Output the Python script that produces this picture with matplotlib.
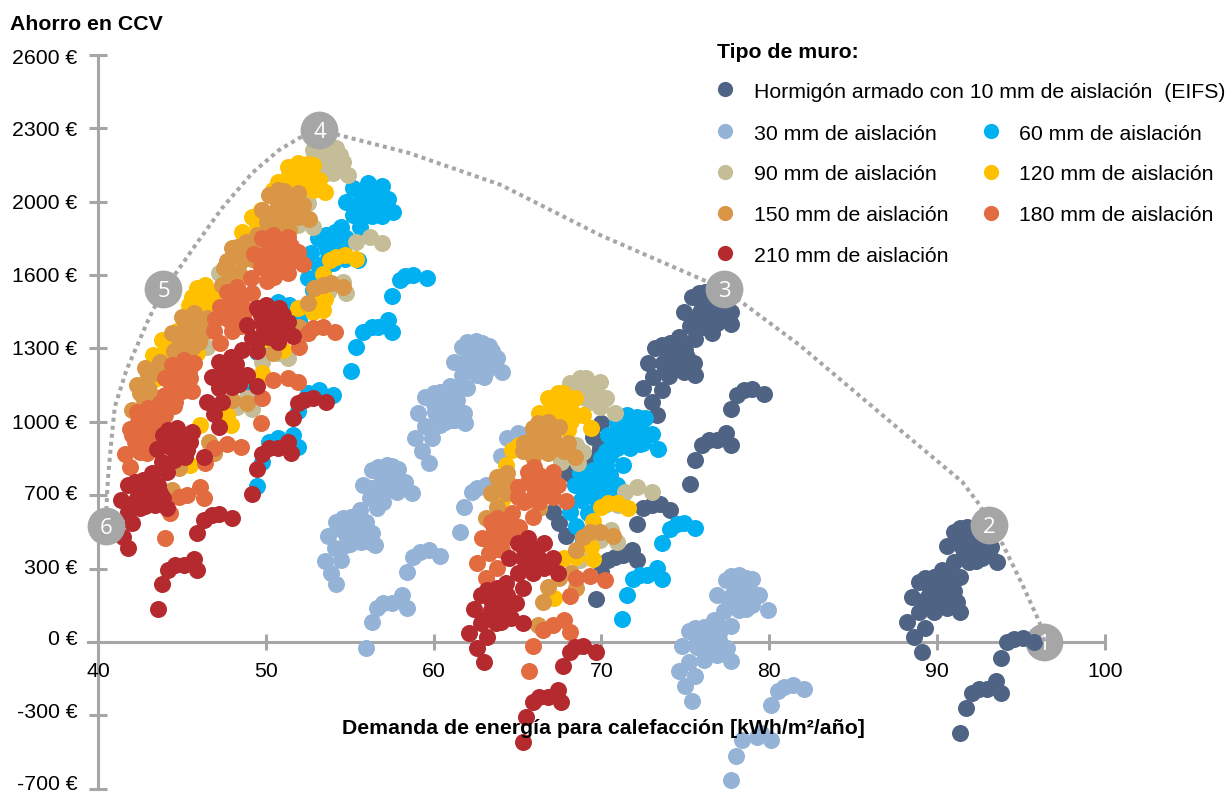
import matplotlib
matplotlib.use("Agg")
import matplotlib.pyplot as plt
from matplotlib.transforms import ScaledTranslation

plt.rcParams['font.family'] = ['Liberation Sans', 'DejaVu Sans']

# ---------- data (kWh/m2/año, € CCV) ----------
eifs = [(91.0,495),(91.4,513),(91.8,517),(92.4,517),(92.7,513),(90.6,432),(91.5,427),(92.0,445),(92.6,450),(93.2,427),
 (91.0,360),(91.9,360),(92.7,378),(93.6,360),(90.3,324),(91.4,292),(88.9,270),(89.3,288),(89.8,292),(90.7,265),
 (88.5,202),(89.4,198),(89.9,220),(90.7,225),(91.2,180),(88.9,135),(89.8,135),(90.6,153),(91.4,135),
 (88.2,90),(89.3,63),(88.6,22),(89.1,-45),
 (94.2,0),(94.6,13),(95.1,18),(95.8,0),(93.8,-72),(93.5,-175),(92.5,-211),(92.1,-229),(93.0,-211),(93.8,-229),(91.7,-297),(91.4,-409),
 (75.4,1551),(75.8,1569),(76.2,1574),(76.8,1574),(77.2,1574),(74.9,1484),(75.9,1484),(76.4,1502),(76.9,1506),(77.7,1484),
 (75.3,1421),(76.1,1416),(76.9,1434),(77.7,1430),(74.6,1371),(75.6,1362),(73.2,1322),(73.6,1335),(74.1,1344),(75.0,1313),
 (72.8,1254),(73.7,1254),(74.2,1277),(75.1,1281),(75.5,1254),(73.1,1191),(74.0,1196),(74.9,1214),(75.6,1200),
 (72.5,1142),(73.6,1133),(73.0,1079),(73.3,1021),
 (78.1,1111),(78.5,1133),(79.0,1137),(79.7,1115),(77.7,1048),(77.4,940),(76.4,908),(76.0,886),(76.9,908),(77.7,886),(75.6,818),(75.3,710),
 (70.0,985),(69.5,922),(69.9,872),(69.3,827),(68.0,760),(68.4,728),(67.1,584),(67.5,535),(67.9,477),
 (72.5,602),(73.0,616),(73.5,620),(74.1,593),(72.1,531),(71.8,414),(70.8,382),(70.4,369),(71.3,391),(72.1,369),(70.0,315),(69.7,193),
 (91.3,465),(92.0,480),(92.8,480),(91.6,395),(92.4,405),(93.1,400),(92.3,365),
 (90.0,255),(90.7,295),(89.6,240),(90.3,240),(91.0,230),(89.2,165),(90.1,165),(90.9,185),(90.2,190),
 (76.0,1520),(76.6,1530),(77.2,1520),(75.6,1445),(76.4,1455),(77.2,1460),(76.6,1390),
 (74.6,1300),(74.3,1320),(73.9,1290),(74.5,1260),(73.8,1220),(74.7,1240),(75.1,1230),(74.9,1340)]

mm30 = [(61.7,1326),(62.0,1349),(62.5,1353),(62.9,1344),(63.3,1331),(61.2,1259),(62.0,1268),(62.6,1277),(63.2,1277),(63.8,1277),
 (61.7,1200),(62.6,1200),(63.2,1223),(64.1,1214),(61.0,1151),(62.0,1142),(59.5,1102),(60.0,1120),(60.4,1124),(61.4,1088),
 (59.1,1030),(60.1,1034),(60.6,1057),(61.4,1052),(61.8,1030),(59.5,971),(60.4,976),(61.1,998),(61.9,985),
 (58.9,917),(59.9,917),(59.3,859),(59.7,805),
 (56.3,773),(56.7,787),(57.2,796),(57.5,791),(57.9,778),(55.8,706),(56.8,710),(57.2,728),(57.9,728),(58.3,719),
 (56.2,647),(57.0,661),(57.8,674),(58.7,670),(55.6,593),(56.6,602),(54.2,540),(54.6,557),(55.1,562),(56.0,540),
 (53.7,477),(54.8,481),(55.3,504),(56.3,490),(54.1,423),(54.8,436),(55.7,450),(56.5,436),
 (53.5,364),(54.5,369),(53.9,310),(54.2,261),
 (58.8,382),(59.2,405),(59.7,414),(60.4,387),(58.4,315),(58.1,211),(57.0,175),(56.6,153),(57.5,175),(58.4,153),(56.3,90),(56.0,-27),
 (62.3,674),(62.6,692),(63.1,706),(61.8,607),(61.6,495),(64.4,917),(65.0,940),(64.0,836),(65.5,931),
 (77.4,279),(77.7,297),(78.2,301),(78.6,288),(79.0,283),(76.9,211),(77.8,211),(78.3,234),(78.9,225),(79.4,211),
 (77.3,139),(78.2,144),(79.0,166),(79.9,144),(76.7,99),(77.7,72),(75.2,49),(75.6,63),(76.1,67),(77.0,40),
 (74.8,-18),(75.7,-22),(76.2,0),(77.0,9),(77.5,-27),(75.2,-90),(76.1,-81),(76.9,-58),(77.7,-85),
 (74.6,-130),(75.6,-153),(75.0,-198),(75.4,-265),
 (80.5,-220),(80.9,-202),(81.4,-193),(82.1,-211),(80.1,-283),(79.5,-409),(78.4,-441),(79.3,-427),(80.1,-441),(78.0,-513),(77.7,-620),
 (62.2,1310),(62.8,1315),(63.5,1310),(61.8,1230),(62.6,1235),(63.3,1245),(63.0,1190),
 (60.4,1080),(61.0,1100),(60.0,1070),(60.5,1020),(61.0,1030),(60.7,990),(60.2,1000),(61.3,1000),(61.5,1140),
 (56.9,745),(57.5,755),(56.3,690),(57.0,695),(57.5,700),(57.0,630),(56.6,660),(58.0,690),
 (55.3,555),(55.7,500),(55.0,510),(54.5,510),(55.0,440),(55.5,470),(56.0,480),(55.7,520),(56.2,450),
 (78.1,260),(78.7,260),(77.6,180),(78.3,190),(79.0,190),(78.6,150),
 (76.6,50),(76.9,80),(76.3,20),(76.6,-20),(76.3,-50),(75.7,20),(77.0,-30)]

mm60 = [(55.2,2041),(56.1,2064),(56.9,2050),(54.8,1978),(55.7,1987),(56.4,2001),(57.3,1992),(55.2,1920),(56.0,1933),(56.8,1951),(57.6,1933),
 (54.5,1866),(55.6,1866),(53.1,1816),(53.6,1830),(54.1,1843),(54.8,1816),(52.7,1749),(53.7,1753),(54.6,1762),(55.5,1717),
 (53.1,1695),(54.0,1704),(52.5,1637),(53.4,1659),(52.8,1583),
 (58.0,1628),(58.3,1646),(58.8,1650),(59.6,1637),(57.5,1556),(57.3,1448),(56.3,1416),(55.8,1394),(56.7,1416),(57.5,1394),(55.4,1326),(55.1,1218),
 (52.5,1120),(53.2,1133),(54.0,1111),(51.9,1039),(50.2,899),(50.7,917),(51.6,931),(51.9,877),(49.8,809),(49.5,701),
 (50.7,1529),(51.4,1515),(52.0,1448),(49.5,1304),(50.4,1322),(48.6,1155),(51.0,1304),
 (70.9,989),(71.5,1021),(72.1,1012),(72.6,1007),(70.4,931),(71.3,931),(71.9,940),(72.5,931),(73.0,935),
 (70.9,872),(71.7,872),(72.5,895),(73.4,868),(70.0,827),(71.3,796),(68.7,760),(69.5,773),(70.3,796),
 (68.4,706),(69.2,706),(70.1,728),(70.9,706),(68.8,638),(69.6,647),(70.5,670),(68.1,584),(69.2,580),(68.5,522),(68.9,459),
 (74.1,508),(74.5,531),(74.9,535),(75.6,513),(73.6,445),(73.3,333),(72.3,301),(71.9,283),(72.7,301),(73.6,283),(71.5,211),(71.2,103),
 (55.8,2020),(56.4,2030),(55.5,1950),(56.2,1960),(56.9,1975),(56.3,1915),(56.9,1915),
 (54.0,1790),(54.5,1800),(53.5,1790),(54.3,1730),(53.6,1710),(54.7,1720),
 (71.0,960),(71.6,975),(72.3,975),(71.2,890),(71.9,900),(72.3,890),
 (70.5,840),(70.0,770),(69.3,730),(70.5,750),(69.9,680),(70.3,620),(69.0,670),(70.3,860)]

mm90 = [(52.8,2212),(53.5,2226),(54.2,2221),(54.6,2158),(54.0,2154),(54.9,2100),(54.0,2109),(53.4,2145),
 (55.4,1798),(56.2,1821),(56.9,1794),(52.5,1974),(52.8,1866),(51.9,1875),(47.2,1659),
 (54.6,1619),(54.8,1569),(53.7,1574),(51.3,1277),(50.8,1299),(46.5,1326),(49.8,1259),
 (48.3,1057),(48.9,1097),(49.2,1048),(46.9,850),
 (68.1,1164),(68.7,1187),(69.1,1187),(69.9,1169),(68.9,1102),(69.7,1120),(70.3,1097),(70.8,1030),(69.9,1057),
 (68.5,886),(68.9,854),(68.6,805),(67.6,809),(71.4,674),(72.1,697),(73.0,674),(71.0,616),
 (70.6,504),(70.9,450),(69.9,459),(68.7,369),
 (53.0,2190),(53.8,2180),(54.3,2130),(53.6,2110),(52.5,2150),(53.9,2200),(54.4,2190),
 (68.7,1130),(69.3,1140),(68.3,1130),(69.3,1080),(68.2,1080),(69.5,1150)]

mm120 = [(51.3,2136),(51.9,2154),(52.8,2145),(50.7,2068),(51.6,2091),(52.5,2100),(53.2,2077),(51.6,2041),(52.8,2032),(53.5,2023),
 (49.2,1911),(49.7,1942),(48.6,1843),(51.1,1861),(45.9,1592),(46.4,1605),(46.8,1551),(45.4,1515),(46.1,1524),
 (43.8,1358),(43.3,1290),(45.9,1299),(44.6,1335),(43.1,1214),(50.2,1358),
 (53.8,1717),(54.2,1731),(54.7,1740),(55.4,1722),(53.4,1655),(51.9,1502),(53.2,1529),(53.4,1493),(52.8,1484),
 (46.1,976),(47.7,1021),(47.9,976),(45.5,796),(49.8,1209),(51.0,1313),(47.4,1214),
 (66.8,1097),(67.4,1120),(67.7,1120),(68.4,1097),(66.3,1030),(67.2,1034),(68.1,1052),(68.9,1021),(69.4,962),(68.0,953),
 (64.7,863),(65.1,886),(64.3,796),(64.1,638),
 (70.0,607),(70.4,625),(70.9,625),(71.6,602),(69.5,544),(67.8,378),(68.5,382),(69.4,427),(69.5,373),(67.2,198),
 (51.4,2100),(52.0,2110),(52.3,2060),(51.1,2040),(52.1,2045),(50.4,2030),(52.5,2150),(49.5,1880),(49.9,1860),(48.8,1780),(50.3,1900),
 (46.0,1550),(46.6,1570),(45.6,1550),(46.9,1500),(45.3,1470),(44.7,1400),(44.0,1310),(44.4,1300),(43.7,1240),(43.4,1180),
 (53.0,1500),(53.5,1540),(67.0,1075),(67.6,1060),(67.9,1090),(66.8,1000),(67.5,1000),(68.2,995),(67.2,960)]

mm150 = [(50.2,2010),(50.7,2032),(51.1,2028),(51.9,2019),(49.8,1942),(50.7,1965),(51.4,1978),(52.2,1965),
 (50.1,1888),(51.0,1897),(51.9,1911),(52.6,1902),(49.5,1830),(48.3,1776),(48.8,1798),(47.7,1713),(48.6,1717),(48.0,1659),(50.7,1664),(47.4,1605),
 (52.9,1592),(53.4,1605),(53.9,1614),(54.6,1596),(52.5,1524),
 (45.0,1461),(45.7,1479),(46.5,1457),(44.4,1389),(45.5,1412),(46.3,1394),(44.9,1344),(45.7,1371),
 (42.8,1232),(43.7,1259),(43.5,1209),(42.3,1155),(42.7,1102),(43.0,1200),(42.0,1043),(42.5,1043),(44.8,782),
 (50.4,1299),(48.9,1075),(48.0,1088),(52.0,1416),(52.5,1389),(46.6,899),(46.9,850),(44.4,683),
 (65.9,962),(66.2,985),(66.8,989),(67.5,967),(65.4,895),(66.5,899),(67.1,917),(68.0,895),(65.9,832),(66.8,850),(68.4,832),
 (63.8,742),(64.4,760),(63.4,670),(64.3,670),(63.8,607),(63.1,557),(66.3,602),
 (68.9,472),(69.3,495),(69.9,495),(70.7,477),(68.5,414),(66.8,247),(67.5,288),(68.2,310),(68.5,243),(66.5,180),(66.2,76),
 (50.7,1995),(51.3,1995),(50.3,1920),(51.0,1930),(51.6,1935),(50.5,1850),(51.4,1850),(49.9,1800),(49.0,1780),(49.2,1720),(48.4,1660),(48.0,1770),(47.9,1600),(47.5,1680),(50.4,1870),(52.1,1935),
 (46.0,1430),(45.2,1420),(45.1,1375),(45.0,1310),(45.6,1320),(46.0,1350),(44.5,1310),(44.0,1230),(43.0,1140),(42.5,1120),(43.4,1100),
 (66.4,930),(67.0,950),(65.8,910),(66.2,870),(67.3,870),(67.8,860),(65.3,860),(64.5,710),(64.0,690),(63.9,720)]

mm180 = [(49.8,1816),(50.4,1830),(51.3,1821),(49.3,1744),(50.1,1749),(50.8,1771),(51.9,1753),(49.7,1686),(50.5,1686),(51.4,1704),(52.2,1700),
 (49.1,1637),(50.1,1623),(47.7,1574),(48.3,1596),(47.3,1506),(48.5,1524),(49.2,1569),(47.6,1457),(48.3,1461),(48.0,1398),(46.9,1398),(47.3,1344),
 (52.5,1389),(52.8,1412),(53.4,1416),(54.1,1394),(52.0,1326),
 (45.1,1268),(44.4,1245),(45.7,1254),(44.0,1187),(44.8,1187),(45.5,1187),(44.6,1079),
 (50.4,1178),(51.3,1187),(51.9,1169),(49.8,1097),(49.7,985),
 (42.3,1034),(43.0,1052),(43.7,1075),(44.0,1021),(41.9,958),(42.8,967),(42.2,899),(43.0,917),(41.6,845),(42.5,854),(41.9,787),
 (46.9,872),(47.7,890),(48.5,877),(46.4,805),(44.8,652),(45.3,661),(46.1,697),(46.3,647),(44.3,580),(44.0,468),
 (65.6,764),(66.0,787),(67.1,764),(65.0,697),(65.9,706),(67.4,706),(65.4,629),(66.3,629),(67.1,652),(67.9,634),(65.9,562),
 (63.4,540),(63.8,557),(64.7,580),(64.4,517),(65.1,517),(62.9,468),(63.8,459),(64.6,472),(63.3,400),(64.1,414),(62.6,355),(63.8,333),(63.1,288),
 (68.5,288),(69.3,297),(70.2,279),(68.1,207),(66.5,54),(67.1,76),(67.8,99),(68.1,45),(65.9,-18),(65.7,-130),
 (50.3,1790),(50.9,1790),(49.9,1710),(50.5,1720),(51.2,1730),(51.5,1780),(50.9,1670),(51.3,1660),(50.5,1640),
 (48.0,1540),(48.6,1560),(47.9,1480),(48.7,1480),(48.9,1420),(47.0,1450),(49.4,1500),(48.5,1420),(48.0,1430),
 (44.9,1220),(45.4,1220),(44.4,1150),(45.0,1130),(45.6,1130),(44.0,1110),(43.4,1000),(42.4,990),(42.9,1000),(43.5,960),(43.3,890),(42.7,900),(42.0,930),(43.5,1020),(44.5,1060),(42.9,850),
 (66.3,750),(65.6,720),(66.3,720),(67.0,720),(66.0,660),(66.7,670),(65.0,650),(64.5,540),(64.0,520),(63.6,510),(64.8,510),(63.4,440),(63.7,420)]

mm210 = [(49.5,1502),(50.0,1515),(50.8,1502),(48.9,1425),(49.8,1434),(50.7,1448),(51.3,1439),(49.2,1367),(50.2,1371),(51.6,1376),(49.5,1308),
 (47.2,1259),(47.9,1281),(48.6,1313),(46.8,1191),(47.9,1209),(48.9,1200),(49.5,1151),(47.2,1142),(48.0,1146),
 (46.5,1079),(47.4,1079),(46.9,1025),(47.2,967),
 (51.9,1075),(52.3,1088),(52.8,1097),(53.6,1079),(51.6,1007),(51.3,899),(50.2,872),(49.8,845),(50.7,872),(51.5,850),(49.5,778),(49.2,665),
 (44.2,953),(44.7,962),(45.6,944),(43.9,931),(44.7,908),(45.5,899),(43.5,868),(44.6,854),(45.3,863),(46.3,832),(43.8,809),(44.1,764),
 (43.2,760),(41.8,706),(42.2,719),(42.7,728),(43.6,706),(41.4,638),(42.3,647),(42.9,670),(43.9,647),(41.8,584),(42.5,602),(43.4,616),(44.1,602),
 (41.5,472),(42.0,535),(41.8,423),
 (46.3,548),(46.8,571),(47.2,575),(48.0,557),(45.9,490),(45.7,373),(44.6,346),(44.2,324),(45.1,346),(45.9,324),(43.8,261),(43.6,148),
 (65.0,445),(65.6,468),(66.6,445),(64.5,378),(65.3,378),(66.2,382),(67.1,378),(65.0,310),(65.9,310),(66.6,333),(67.4,310),
 (64.3,265),(65.3,243),(62.8,211),(63.2,234),(63.8,243),(62.4,148),(63.4,144),(64.1,166),(64.9,175),(62.8,85),(63.7,85),(64.6,108),(65.3,85),
 (62.1,40),(63.2,22),(62.6,-27),(63.0,-90),
 (68.1,-45),(68.4,-22),(68.9,-18),(69.7,-45),(67.7,-108),(67.4,-216),(66.3,-247),(65.9,-270),(66.8,-247),(67.6,-270),(65.5,-337),(65.3,-450),
 (49.7,1470),(50.4,1470),(51.0,1470),(49.9,1400),(50.5,1405),(51.0,1400),(49.6,1360),(50.7,1350),
 (47.6,1230),(48.2,1250),(48.3,1180),(47.4,1180),(47.5,1220),(48.0,1150),(48.4,1160),
 (44.3,920),(45.0,920),(44.2,880),(45.0,870),(44.5,820),(45.2,830),(44.0,780),
 (42.8,690),(43.3,690),(42.5,660),(43.2,640),(42.8,610),(42.1,620),(43.7,670),(43.1,735),
 (65.4,420),(66.0,420),(65.9,360),(65.5,340),(66.4,350),
 (63.8,200),(64.4,210),(63.4,190),(63.9,120),(64.4,140),(63.2,110),(64.0,90)]

series = [eifs, mm30, mm60, mm90, mm120, mm150, mm180, mm210]
colors = ['#4f6484', '#95b3d7', '#00b0f0', '#c4bd97', '#ffc000', '#d99646', '#e26b40', '#b42a2e']

# Pareto envelope and numbered points
frontier = [(40.5,593),(40.55,680),(40.6,742),(40.8,908),(41.0,1057),(41.7,1223),(43.0,1448),(43.9,1587),(44.7,1664),(45.9,1794),(47.4,1951),
 (49.2,2109),(50.8,2212),(52.0,2266),(53.2,2302),(54.3,2280),(58.5,2199),(64.0,2055),(69.9,1830),(77.3,1587),(81.8,1335),
 (87.8,953),(91.5,720),(92.6,610),(93.1,526),(93.9,441),(95.1,256),(96.1,90),(96.4,0)]
num_labels = ['1', '2', '3', '4', '5', '6']
num_x = [96.4, 93.1, 77.3, 53.2, 43.9, 40.5]
num_y = [0, 526, 1587, 2302, 1587, 522]

x_ticks = [40, 50, 60, 70, 80, 90, 100]
y_ticks = [-660, -330, 0, 330, 660, 990, 1320, 1650, 1980, 2310, 2640]
y_labels = ['-700 €', '-300 €', '0 €', '300 €', '700 €', '1000 €', '1300 €', '1600 €', '2000 €', '2300 €', '2600 €']
y_label_shift = [6, 5, 4, 2, 3, 0, 1, 0, 0, 0, -2]

legend_title = 'Tipo de muro:'
legend_labels = ['Hormigón armado con 10 mm de aislación  (EIFS)', '30 mm de aislación', '60 mm de aislación',
                 '90 mm de aislación', '120 mm de aislación', '150 mm de aislación', '180 mm de aislación', '210 mm de aislación']
legend_mx = [725, 725, 991, 725, 991, 725, 991, 725]
legend_my = [89, 131, 131, 172, 172, 213, 213, 253]
legend_tx = [754, 754, 1019, 754, 1019, 754, 1019, 754]
legend_ty = [91, 133, 133, 173, 173, 213, 213, 254]

W, H = 1232, 794
GREY = '#a6a6a6'
FS = 15.3

fig = plt.figure(figsize=(W / 100, H / 100), dpi=100)
ax = fig.add_axes([0, 0, 1, 1])
ax.set_xlim(34.16, 107.58)
ax.set_ylim(-683.4, 2886)
ax.patch.set_visible(False)

for s in ('top', 'right'):
    ax.spines[s].set_visible(False)
ax.spines['left'].set_position(('data', 40))
ax.spines['bottom'].set_position(('data', 0))
ax.spines['left'].set_bounds(-660, 2640)
ax.spines['bottom'].set_bounds(39.4, 100)
for s in ('left', 'bottom'):
    ax.spines[s].set_color(GREY)
    ax.spines[s].set_linewidth(2.2)
    ax.spines[s].set_zorder(1)

ax.set_xticks(x_ticks)
ax.set_xticklabels([str(v) for v in x_ticks])
ax.set_yticks(y_ticks)
ax.set_yticklabels(y_labels)
ax.tick_params(axis='x', direction='inout', length=11.5, width=2.2, color=GREY, labelsize=FS, pad=9, labelcolor='black')
ax.tick_params(axis='y', direction='inout', length=13.5, width=2.2, color=GREY, labelsize=FS, pad=8, labelcolor='black')
for lab, dy in zip(ax.get_yticklabels(), y_label_shift):
    lab.set_verticalalignment('center_baseline')
    lab.set_transform(lab.get_transform() + ScaledTranslation(0, dy / 100, fig.dpi_scale_trans))

# circle 1 lies under the points, the others above
ax.scatter(num_x[0], num_y[0], s=740, color=GREY, linewidths=0, zorder=1.5)
ax.text(num_x[0], num_y[0], num_labels[0], color='white', ha='center', va='center_baseline',
        fontsize=16, family='Open Sans', zorder=1.6)

for pts, col, z in zip(series, colors, range(2, 10)):
    xs, ys = zip(*pts)
    ax.scatter(xs, ys, s=150, color=col, linewidths=0, zorder=z)

fx, fy = zip(*frontier)
ax.plot(fx, fy, color=GREY, lw=2.9, linestyle=(0, (1, 1)), dash_capstyle='butt', zorder=10)
ax.scatter(num_x[1:], num_y[1:], s=740, color=GREY, linewidths=0, zorder=11)
for xv, yv, t in zip(num_x[1:], num_y[1:], num_labels[1:]):
    ax.text(xv, yv, t, color='white', ha='center', va='center_baseline', fontsize=16, family='Open Sans', zorder=12)

# texts
def px(x, y):
    return x / W, 1 - y / H

ax.text(*px(10, 22), 'Ahorro en CCV', transform=ax.transAxes, fontsize=FS, fontweight='bold', va='center_baseline', zorder=13)
ax.text(*px(603, 727), 'Demanda de energía para calefacción [kWh/m²/año]', transform=ax.transAxes, fontsize=FS,
        fontweight='bold', ha='center', va='center_baseline', zorder=13)
ax.text(*px(717, 51), legend_title, transform=ax.transAxes, fontsize=FS, fontweight='bold', va='center_baseline', zorder=13)
for mx, my, tx, ty, lab, col in zip(legend_mx, legend_my, legend_tx, legend_ty, legend_labels, colors):
    ax.scatter(*px(mx, my), s=120, color=col, linewidths=0, transform=ax.transAxes, zorder=13)
    ax.text(*px(tx, ty), lab, transform=ax.transAxes, fontsize=FS, va='center_baseline', zorder=13)

fig.savefig('out.png', dpi=100)
